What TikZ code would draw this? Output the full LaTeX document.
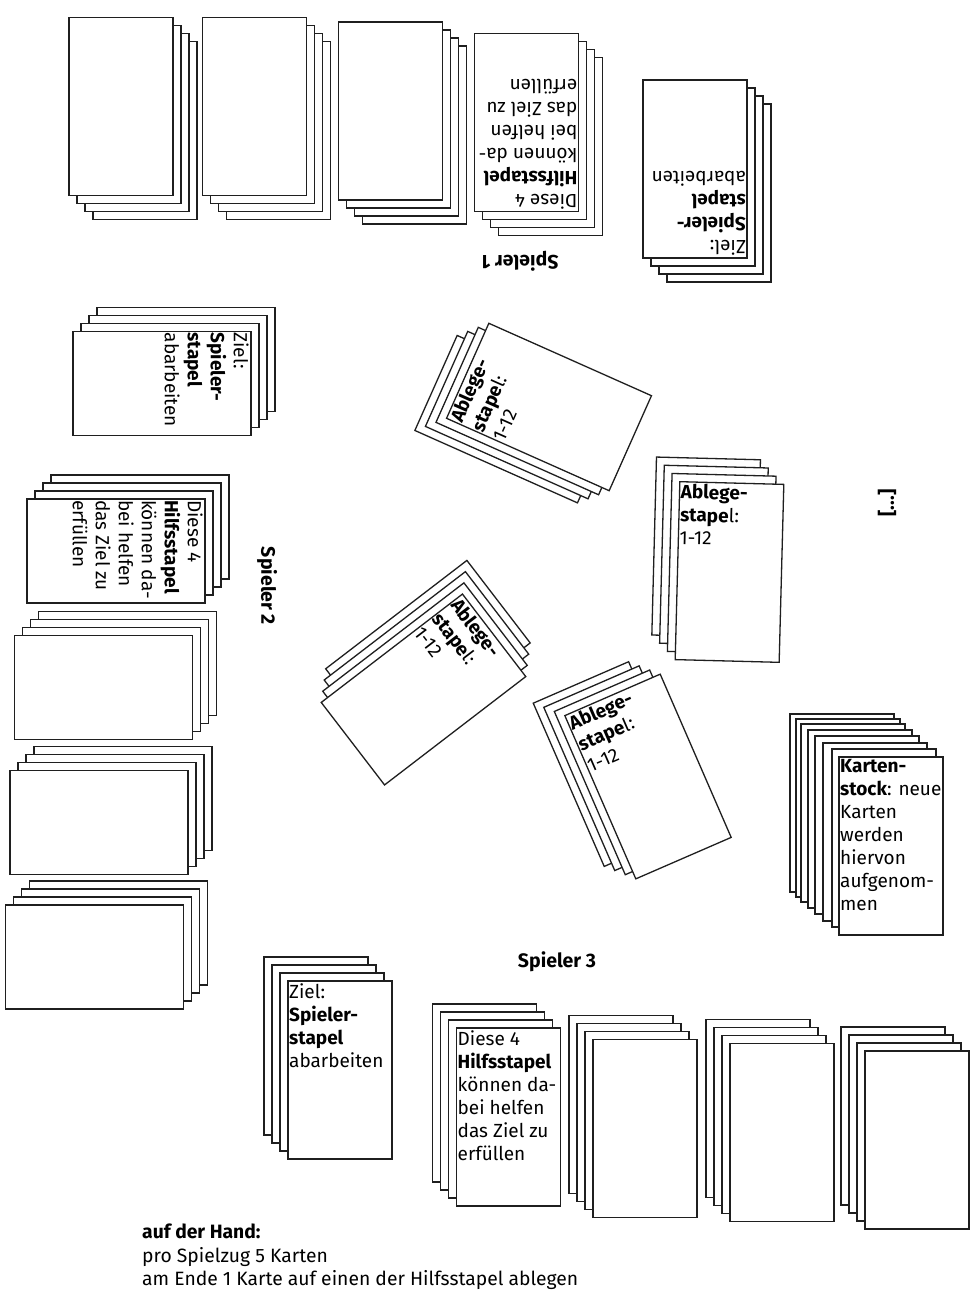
\documentclass[tikz,border=0pt]{standalone}
\usepackage{fontspec}
\setmainfont{Fira Sans}
\tikzset{
  card/.style={draw=black!88, line width=1.3pt, fill=white, minimum width=104pt, minimum height=178pt, inner sep=0pt, outer sep=0pt},
  ctext/.style={anchor=north west, inner xsep=1pt, inner ysep=2pt, align=left, font=\fontsize{19}{23}\selectfont},
  lbl/.style={font=\bfseries\fontsize{19.5}{22}\selectfont, inner sep=0pt},
  hand/.style={anchor=base west, inner sep=0pt, font=\fontsize{19.3}{23}\selectfont},
}
\newcommand{\cardstack}[4]{%
  \begin{scope}[shift={#2}, rotate=#3, transform shape]
    \node[card] (#1-3) at (-24,-24) {};
    \node[card] (#1-2) at (-16,-16) {};
    \node[card] (#1-1) at (-8,-8) {};
    \node[card] (#1) at (0,0) {};
    \node[ctext] (#1-t) at (#1.north west) {#4};
  \end{scope}}
\newcommand{\zieltext}{Ziel:\\\textbf{Spieler-}\\\textbf{stapel}\\abarbeiten}
\newcommand{\hilfstext}{Diese 4\\\textbf{Hilfsstapel}\\können da-\\bei helfen\\das Ziel zu\\erfüllen}
\newcommand{\ablegetext}{\textbf{Ablege-}\\\textbf{stape}l:\\1-12}
\begin{document}
\begin{tikzpicture}[x=1pt,y=-1pt]
\useasboundingbox[fill=white] (0,0) rectangle (976,1316);
% Spieler 1 (top, upside down)
\cardstack{p1a}{(121,106.5)}{180}{}
\cardstack{p1b}{(254.5,106.5)}{180}{}
\cardstack{p1c}{(390.5,111)}{180}{}
\cardstack{p1d}{(526.5,122.5)}{180}{\hilfstext}
\cardstack{p1e}{(695,169)}{180}{\zieltext}
\node[lbl, rotate=180] (sp1) at (520,261) {Spieler 1};
% Spieler 2 (left)
\cardstack{p2a}{(162,383.5)}{-90}{\zieltext}
\cardstack{p2b}{(116,551)}{-90}{\hilfstext}
\cardstack{p2c}{(103.5,687.5)}{-90}{}
\cardstack{p2d}{(99,822.5)}{-90}{}
\cardstack{p2e}{(94.5,957)}{-90}{}
\node[lbl, rotate=-90] (sp2) at (267,586) {Spieler 2};
% Spieler 3 (bottom)
\cardstack{p3a}{(340,1070)}{0}{\zieltext}
\cardstack{p3b}{(508.5,1117)}{0}{\hilfstext}
\cardstack{p3c}{(645,1128.5)}{0}{}
\cardstack{p3d}{(782,1132.5)}{0}{}
\cardstack{p3e}{(917,1140)}{0}{}
\node[lbl] (sp3) at (557,962) {Spieler 3};
% Ablagestapel (centre)
\cardstack{aa}{(549,407)}{66}{\ablegetext}
\cardstack{ab}{(729.5,572)}{-1.5}{\ablegetext}
\cardstack{ac}{(423.5,689.5)}{-52.5}{\ablegetext}
\cardstack{ad}{(648,776.5)}{23.5}{\ablegetext}
% Spieler 4 placeholder
\node[lbl, rotate=90] (sp4) at (887,503) {[...]};
% Kartenstock
\node[card] (ks-7) at (842,803) {};
\node[card] (ks-6) at (848,808) {};
\node[card] (ks-5) at (853,813) {};
\node[card] (ks-4) at (860,819) {};
\node[card] (ks-3) at (867,825) {};
\node[card] (ks-2) at (875,832) {};
\node[card] (ks-1) at (884,838) {};
\node[card] (ks) at (891,846) {};
\node[ctext] (ks-t) at (ks.north west) {\textbf{Karten-}\\\textbf{stock}: neue\\Karten\\werden\\hiervon\\aufgenom-\\men};
% Hand
\node[hand, font=\bfseries\fontsize{19.3}{23}\selectfont] (h1) at (142,1238) {auf der Hand:};
\node[hand] (h2) at (142,1262) {pro Spielzug 5 Karten};
\node[hand] (h3) at (142,1285) {am Ende 1 Karte auf einen der Hilfsstapel ablegen};
\end{tikzpicture}
\end{document}
